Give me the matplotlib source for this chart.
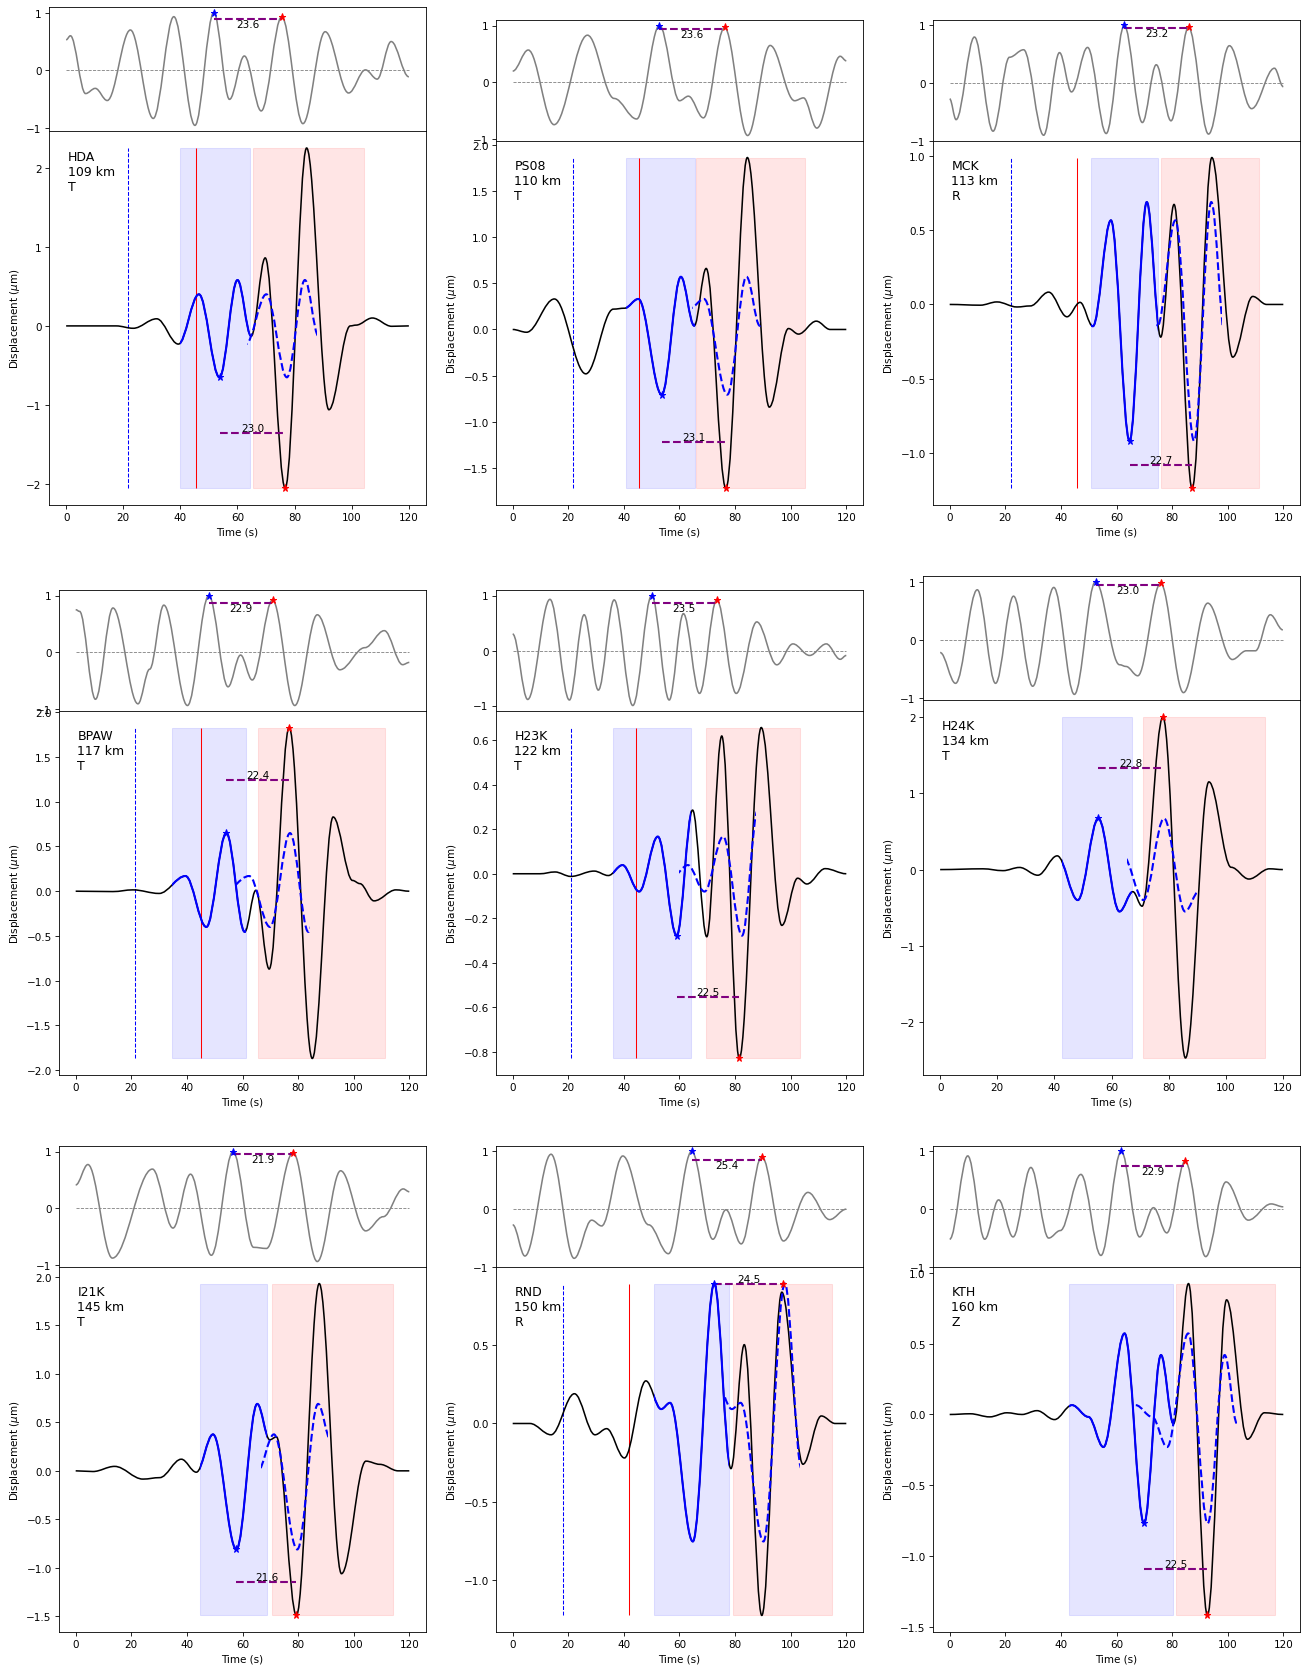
import matplotlib.pyplot as plt
from matplotlib.path import Path
from matplotlib.patches import PathPatch, Rectangle
from matplotlib.transforms import Affine2D

# station info
stations = ["HDA", "PS08", "MCK", "BPAW", "H23K", "H24K", "I21K", "RND", "KTH"]
dist_km = [109, 110, 113, 117, 122, 134, 145, 150, 160]
comps = ["T", "T", "R", "T", "T", "T", "T", "R", "Z"]

# cross-correlation traces (top panels), read at peaks / troughs
HDA_corr_t = [0, 1.5, 6.8, 10.2, 14.4, 22.5, 30.5, 37.7, 45.1, 51.7, 57.2, 62.4, 68.3, 75.5, 82.9, 90.7, 98.9, 104.8, 108.9, 113.8, 120]
HDA_corr_v = [0.53, 0.60, -0.40, -0.31, -0.52, 0.70, -0.83, 0.93, -0.95, 1.0, -0.50, 0.25, -0.70, 0.93, -0.92, 0.67, -0.39, 0.01, -0.15, 0.50, -0.11]
PS08_corr_t = [0, 5.6, 14.9, 26.9, 36.5, 44.6, 52.8, 60.0, 63.2, 68.6, 76.2, 84.5, 92.6, 101.4, 104.6, 109.4, 117.8, 120]
PS08_corr_v = [0.20, 0.57, -0.74, 0.83, -0.28, -0.64, 1.0, -0.32, -0.24, -0.62, 0.965, -0.93, 0.65, -0.32, -0.27, -0.80, 0.46, 0.38]
MCK_corr_t = [0, 2.3, 8.9, 15.6, 21.5, 26.6, 33.8, 39.5, 43.8, 49.6, 56.3, 62.8, 69.3, 74.3, 79.6, 85.9, 93.1, 100.6, 108.6, 116.8, 120]
MCK_corr_v = [-0.27, -0.63, 0.80, -0.83, 0.45, 0.58, -0.90, 0.53, -0.15, 0.62, -0.87, 1.0, -0.68, 0.32, -0.65, 0.97, -0.88, 0.65, -0.44, 0.26, -0.06]
BPAW_corr_t = [0, 1.4, 7.1, 13.4, 22.4, 26.6, 31.7, 40.2, 47.9, 54.8, 59.3, 63.5, 70.8, 78.8, 86.9, 95.0, 104.0, 111.0, 117.6, 120]
BPAW_corr_v = [0.75, 0.72, -0.83, 0.78, -0.91, -0.30, 0.83, -0.94, 1.0, -0.61, -0.05, -0.49, 0.92, -0.94, 0.66, -0.31, 0.08, 0.38, -0.22, -0.18]
H23K_corr_t = [0, 5.4, 13.4, 20.4, 25.7, 30.8, 36.5, 43.2, 50.0, 56.3, 61.4, 67.2, 73.4, 80.4, 87.8, 95.0, 100.8, 106.8, 112.8, 117.8, 120]
H23K_corr_v = [0.30, -0.89, 0.93, -0.90, 0.65, -0.72, 0.92, -1.0, 1.0, -0.90, 0.67, -0.78, 0.92, -0.78, 0.52, -0.26, 0.12, -0.09, 0.12, -0.16, -0.09]
H24K_corr_t = [0, 5.4, 13.0, 19.4, 25.7, 32.4, 39.8, 47.0, 54.4, 62.8, 65.1, 69.2, 77.2, 85.2, 93.7, 102.3, 107.2, 110.4, 115.6, 120]
H24K_corr_v = [-0.22, -0.75, 0.86, -0.75, 0.75, -0.80, 0.90, -0.94, 1.0, -0.43, -0.46, -0.62, 0.97, -0.91, 0.63, -0.34, -0.19, -0.19, 0.43, 0.17]
I21K_corr_t = [0, 4.4, 13.2, 27.6, 35.0, 41.3, 48.8, 56.6, 64.0, 68.6, 78.2, 86.9, 95.3, 104.3, 110.6, 117.8, 120]
I21K_corr_v = [0.41, 0.77, -0.88, 0.69, -0.35, 0.60, -0.83, 1.0, -0.69, -0.71, 0.98, -0.94, 0.66, -0.40, -0.15, 0.34, 0.29]
RND_corr_t = [0, 4.4, 13.8, 22.1, 28.4, 32.0, 39.6, 48.9, 56.0, 64.4, 72.0, 76.7, 82.2, 89.6, 97.4, 106.2, 114.0, 120]
RND_corr_v = [-0.27, -0.81, 0.95, -0.85, -0.19, -0.29, 0.92, -0.27, -0.77, 1.0, -0.52, -0.01, -0.60, 0.91, -0.55, 0.29, -0.18, 0.0]
KTH_corr_t = [0, 6.5, 12.6, 17.6, 22.8, 29.2, 35.6, 39.8, 47.2, 54.4, 61.7, 68.3, 73.3, 78.1, 84.7, 92.1, 99.4, 107.4, 115.6, 120]
KTH_corr_v = [-0.52, 0.92, -0.52, 0.16, -0.48, 0.72, -0.50, -0.37, 0.60, -0.80, 1.0, -0.48, 0.025, -0.41, 0.83, -0.82, 0.47, -0.19, 0.09, 0.04]

# displacement waveforms (bottom panels, micrometres)
HDA_disp_t = [0, 17.5, 23.5, 31.7, 39.3, 46.5, 53.7, 60.0, 64.8, 69.7, 76.7, 84.2, 92.0, 99.5, 101.5, 107.2, 114.0, 120]
HDA_disp_v = [0, 0, -0.03, 0.09, -0.23, 0.40, -0.65, 0.58, -0.13, 0.86, -2.05, 2.25, -1.06, 0.0, 0.01, 0.10, -0.005, 0]
PS08_disp_t = [0, 5.0, 15.0, 26.3, 36.2, 40.2, 45.2, 53.6, 60.5, 65.3, 69.6, 76.7, 84.4, 92.3, 99.2, 102.8, 109.2, 114.2, 120]
PS08_disp_v = [0, -0.03, 0.33, -0.48, 0.22, 0.23, 0.33, -0.705, 0.57, 0.04, 0.66, -1.72, 1.86, -0.84, 0.01, -0.05, 0.09, 0.0, 0]
MCK_disp_t = [0, 11, 17, 24.2, 29, 35.6, 42.2, 46.9, 51.5, 58.0, 64.7, 70.9, 75.9, 80.7, 87.2, 94.3, 101.8, 109, 114, 120]
MCK_disp_v = [0, -0.005, 0.017, -0.017, -0.01, 0.083, -0.083, 0.014, -0.147, 0.567, -0.92, 0.69, -0.22, 0.674, -1.24, 0.99, -0.355, 0.054, 0.0, 0]
BPAW_disp_t = [0, 13.4, 20.6, 30.0, 39.5, 47.0, 54.2, 60.8, 64.8, 69.6, 76.8, 85.1, 92.6, 99.6, 102.2, 107.3, 115.2, 120]
BPAW_disp_v = [0, -0.004, 0.015, -0.025, 0.17, -0.40, 0.65, -0.455, 0.01, -0.87, 1.83, -1.87, 0.83, 0.12, 0.085, -0.108, 0.015, 0]
H23K_disp_t = [0, 9.8, 15.2, 20.9, 29.3, 34.4, 39.5, 45.5, 52.2, 59.0, 64.7, 69.8, 75.2, 81.5, 89.4, 96.8, 102.5, 105.8, 112.4, 120]
H23K_disp_v = [0, 0, 0.008, -0.012, 0.012, -0.008, 0.039, -0.08, 0.167, -0.278, 0.286, -0.283, 0.619, -0.83, 0.657, -0.232, -0.02, -0.046, 0.023, 0]
H24K_disp_t = [0, 15, 22, 27.8, 34.2, 41.0, 48.2, 55.4, 62.8, 67.5, 70.7, 78.0, 85.9, 94.1, 101.9, 108.1, 115.3, 120]
H24K_disp_v = [0, 0.01, -0.014, 0.028, -0.074, 0.18, -0.40, 0.67, -0.55, -0.29, -0.48, 2.0, -2.47, 1.15, 0.03, -0.124, 0.01, 0]
I21K_disp_t = [0, 6.2, 14.0, 24.2, 30.2, 38.0, 43.4, 49.4, 57.8, 65.3, 69.8, 72.2, 79.4, 87.6, 95.6, 104.4, 109.4, 116, 120]
I21K_disp_v = [0, -0.007, 0.046, -0.085, -0.07, 0.12, -0.014, 0.376, -0.81, 0.69, 0.32, 0.35, -1.49, 1.93, -1.06, 0.10, 0.067, 0.0, 0]
RND_disp_t = [0, 6.2, 13.8, 22.2, 29.6, 33.8, 40.2, 47.9, 53.4, 56.6, 64.8, 72.5, 78.5, 83.3, 89.6, 96.8, 104.4, 111.0, 116, 120]
RND_disp_v = [0, 0, -0.072, 0.19, -0.072, -0.033, -0.22, 0.272, 0.092, 0.132, -0.753, 0.893, -0.288, 0.503, -1.225, 0.838, -0.26, 0.048, 0.0, 0]
KTH_disp_t = [0, 7.4, 14.4, 20.6, 26.0, 31.4, 37.7, 44.0, 49.9, 55.3, 62.9, 69.9, 76.0, 80.5, 85.9, 92.7, 99.6, 107.1, 113.2, 120]
KTH_disp_v = [0, 0.005, -0.017, 0.012, 0.0, 0.027, -0.036, 0.066, -0.017, -0.23, 0.573, -0.77, 0.42, -0.066, 0.925, -1.42, 0.81, -0.175, 0.012, 0]

corr_t = [HDA_corr_t, PS08_corr_t, MCK_corr_t, BPAW_corr_t, H23K_corr_t, H24K_corr_t, I21K_corr_t, RND_corr_t, KTH_corr_t]
corr_v = [HDA_corr_v, PS08_corr_v, MCK_corr_v, BPAW_corr_v, H23K_corr_v, H24K_corr_v, I21K_corr_v, RND_corr_v, KTH_corr_v]
disp_t = [HDA_disp_t, PS08_disp_t, MCK_disp_t, BPAW_disp_t, H23K_disp_t, H24K_disp_t, I21K_disp_t, RND_disp_t, KTH_disp_t]
disp_v = [HDA_disp_v, PS08_disp_v, MCK_disp_v, BPAW_disp_v, H23K_disp_v, H24K_disp_v, I21K_disp_v, RND_disp_v, KTH_disp_v]

# time windows (s)
blue_win = [(39.7, 64.4), (40.8, 65.6), (50.9, 74.9), (34.8, 61.4), (36.2, 64.1), (42.6, 67.1), (44.6, 68.9), (51.0, 77.8), (43.0, 80.5)]
red_win = [(65.6, 104.2), (66.0, 105.2), (76.0, 111.4), (65.6, 111.2), (69.4, 103.4), (71.2, 113.6), (70.6, 114.0), (79.4, 114.8), (81.4, 117.0)]
p_pick = [21.8, 21.8, 22.0, 21.4, 20.8, None, None, 18.2, None]
s_pick = [45.5, 45.4, 45.7, 44.9, 44.4, None, None, 41.9, None]

# correlation peaks: lag, star times, second peak level, line level
corr_lag = [23.6, 23.6, 23.2, 22.9, 23.5, 23.0, 21.9, 25.4, 22.9]
corr_peak1_t = [51.7, 52.8, 62.8, 47.9, 50.0, 54.4, 56.6, 64.4, 61.7]
corr_peak2_t = [75.5, 76.2, 85.9, 70.8, 73.4, 77.2, 78.2, 89.6, 84.7]
corr_peak2_v = [0.93, 0.965, 0.97, 0.92, 0.92, 0.97, 0.98, 0.91, 0.83]
corr_line_v = [0.89, 0.93, 0.96, 0.875, 0.87, 0.94, 0.96, 0.857, 0.74]

# picked phases on the waveform
blue_star_t = [53.7, 53.6, 64.7, 54.2, 59.0, 55.4, 57.8, 72.5, 69.9]
blue_star_v = [-0.65, -0.705, -0.92, 0.65, -0.278, 0.67, -0.81, 0.893, -0.77]
red_star_t = [76.7, 76.7, 87.2, 76.8, 81.5, 78.0, 79.4, 97.2, 92.7]
red_star_v = [-2.05, -1.72, -1.24, 1.83, -0.83, 2.0, -1.49, 0.89, -1.42]
pick_dt = [23.0, 23.1, 22.7, 22.4, 22.5, 22.8, 21.6, 24.5, 22.5]

# axes boxes in pixels: left, right, top, split, bottom
W, H = 1305, 1668
boxes = [(49, 426, 8, 132, 506), (496, 863, 21, 142, 506), (933, 1300, 21, 142, 506),
         (59, 426, 591, 712, 1076), (496, 863, 591, 712, 1076), (923, 1300, 577, 701, 1076),
         (59, 426, 1147, 1268, 1633), (496, 863, 1147, 1268, 1633), (933, 1300, 1147, 1268, 1633)]


def smooth_path(t, v):
    # cubic bezier between read points, flat tangent at every point
    verts = [(t[0], v[0])]
    codes = [Path.MOVETO]
    for k in range(len(t) - 1):
        dt = t[k + 1] - t[k]
        verts += [(t[k] + 0.36 * dt, v[k]), (t[k + 1] - 0.36 * dt, v[k + 1]), (t[k + 1], v[k + 1])]
        codes += [Path.CURVE4] * 3
    return Path(verts, codes)


fig = plt.figure(figsize=(W / 75, H / 75), dpi=75)

for i in range(9):
    l, r, top, split, bot = boxes[i]
    ax1 = fig.add_axes([l / W, 1 - split / H, (r - l) / W, (split - top) / H])
    ax2 = fig.add_axes([l / W, 1 - bot / H, (r - l) / W, (bot - split) / H], sharex=ax1)

    # top: cross-correlation
    ax1.add_patch(PathPatch(smooth_path(corr_t[i], corr_v[i]), fill=False, edgecolor="gray", lw=1.5))
    ax1.plot([corr_t[i][0], corr_t[i][-1]], [0, 0], "--", color="gray", lw=0.8)
    ax1.plot([corr_peak1_t[i], corr_peak2_t[i]], [corr_line_v[i], corr_line_v[i]], "--", color="purple", lw=2)
    ax1.plot(corr_peak1_t[i], 1.0, "*", color="blue", ms=7)
    ax1.plot(corr_peak2_t[i], corr_peak2_v[i], "*", color="red", ms=7)
    ax1.text((corr_peak1_t[i] + corr_peak2_t[i]) / 2, corr_line_v[i], "%.1f" % corr_lag[i],
             ha="center", va="top", fontsize=10)
    ax1.set_yticks([-1, 0, 1])
    ax1.tick_params(axis="x", bottom=False, labelbottom=False)

    # bottom: displacement
    lo = min(disp_v[i])
    hi = max(disp_v[i])
    ax2.fill_between(blue_win[i], lo, hi, color="blue", alpha=0.1)
    ax2.fill_between(red_win[i], lo, hi, color="red", alpha=0.1)
    if p_pick[i] is not None:
        ax2.vlines(p_pick[i], lo, hi, colors="blue", linestyles="--", lw=1)
    if s_pick[i] is not None:
        ax2.vlines(s_pick[i], lo, hi, colors="red", lw=1)

    wave = smooth_path(disp_t[i], disp_v[i])
    ax2.add_patch(PathPatch(wave, fill=False, edgecolor="black", lw=1.5, zorder=2))

    # blue window part of the waveform
    b0, b1 = blue_win[i]
    seg = PathPatch(wave, fill=False, edgecolor="blue", lw=2, zorder=3)
    ax2.add_patch(seg)
    seg.set_clip_path(Rectangle((b0, -1000), b1 - b0, 2000, transform=ax2.transData))

    # same part shifted by the correlation lag
    moved = wave.transformed(Affine2D().translate(corr_lag[i], 0))
    dash = PathPatch(moved, fill=False, edgecolor="blue", lw=2, ls="--", zorder=3)
    ax2.add_patch(dash)
    dash.set_clip_path(Rectangle((b0 + corr_lag[i], -1000), b1 - b0, 2000, transform=ax2.transData))

    mid_v = (blue_star_v[i] + red_star_v[i]) / 2
    ax2.plot([blue_star_t[i], red_star_t[i]], [mid_v, mid_v], "--", color="purple", lw=2, zorder=4)
    ax2.text((blue_star_t[i] + red_star_t[i]) / 2, mid_v, "%.1f" % pick_dt[i],
             ha="center", va="bottom", fontsize=10)
    ax2.plot(blue_star_t[i], blue_star_v[i], "*", color="blue", ms=7, zorder=5)
    ax2.plot(red_star_t[i], red_star_v[i], "*", color="red", ms=7, zorder=5)

    ax2.text(0.05, 0.95, "%s\n%d km\n%s" % (stations[i], dist_km[i], comps[i]),
             transform=ax2.transAxes, ha="left", va="top", fontsize=12)
    ax2.set_xlabel("Time (s)")
    ax2.set_ylabel(r"Displacement ($\mu$m)")

    # x range of the trace plus the usual 5 % margin
    span = disp_t[i][-1] - disp_t[i][0]
    ax2.set_xlim(disp_t[i][0] - 0.05 * span, disp_t[i][-1] + 0.05 * span)

fig.savefig("out.png", dpi=75)
